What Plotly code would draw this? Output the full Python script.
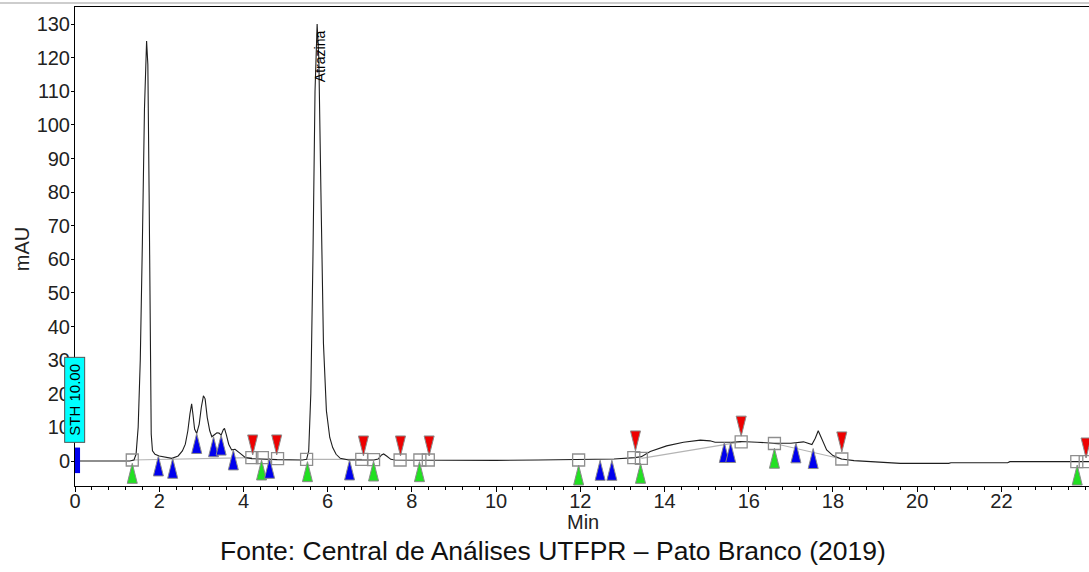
import plotly.graph_objects as go

# ---------------- data ----------------
time_min = [0.00, 1.30, 1.40, 1.45, 1.50, 1.55, 1.60, 1.65, 1.70, 1.73, 1.76, 1.79, 1.81, 1.84,
            1.90, 2.00, 2.15, 2.30, 2.45, 2.55, 2.62, 2.68, 2.73, 2.77, 2.80, 2.84, 2.89, 2.95,
            3.00, 3.05, 3.09, 3.14, 3.20, 3.25, 3.31, 3.37, 3.42, 3.47, 3.52, 3.55, 3.59, 3.65,
            3.72, 3.80, 3.90, 4.05, 4.20, 4.45, 4.80, 5.40, 5.50, 5.55, 5.60, 5.65, 5.70, 5.75,
            5.79, 5.84, 5.90, 5.97, 6.05, 6.12, 6.20, 6.30, 6.50, 7.10, 7.20, 7.28, 7.33, 7.40,
            7.50, 7.60, 9.00, 10.00, 11.00, 12.00, 12.80, 13.30, 13.45, 13.66, 14.05, 14.45,
            14.85, 15.08, 15.20, 15.60, 15.80, 16.20, 16.60, 17.00, 17.30, 17.50, 17.58, 17.65,
            17.72, 17.85, 18.00, 18.20, 18.50, 18.90, 19.60, 20.75, 20.80, 22.15, 22.20, 24.10]
absorb_mau = [0.0, 0.0, 0.3, 2.0, 10.0, 30.0, 65.0, 105.0, 125.0, 118.0, 80.0, 30.0, 8.0, 3.0,
              2.0, 1.5, 1.1, 0.8, 1.5, 3.0, 5.0, 9.0, 14.0, 17.0, 14.0, 9.5, 8.2, 11.0,
              16.0, 19.4, 18.5, 13.0, 9.0, 7.2, 7.8, 8.4, 8.3, 7.7, 9.3, 9.7, 8.0, 5.0,
              3.3, 3.5, 2.5, 1.0, 0.7, 0.5, 0.4, 0.3, 0.5, 3.0, 20.0, 60.0, 110.0, 130.0,
              120.0, 80.0, 35.0, 15.0, 7.0, 4.0, 2.0, 0.8, 0.3, 0.3, 0.6, 1.8, 2.1, 1.5,
              0.5, 0.3, 0.2, 0.2, 0.3, 0.4, 0.6, 1.0, 1.3, 2.8, 4.5, 5.6,
              6.2, 6.0, 5.6, 5.6, 5.8, 5.6, 5.3, 5.3, 5.7, 4.9, 6.8, 9.0,
              7.0, 3.3, 1.6, 0.6, 0.1, -0.2, -0.7, -0.7, -0.5, -0.5, -0.2, -0.2]

square_t = [1.36, 4.20, 4.45, 4.81, 5.50, 6.81, 7.09, 7.72, 8.19, 8.39, 11.96, 13.27, 13.45,
            15.82, 16.61, 18.21, 23.79, 23.99]
square_v = [0.3, 1.0, 1.0, 0.7, 0.5, 0.5, 0.4, 0.3, 0.3, 0.3, 0.3, 1.0, 0.8,
            5.7, 5.2, 0.6, -0.2, -0.2]

green_t = [1.36, 4.43, 5.52, 7.09, 8.18, 11.96, 13.43, 16.61, 23.80]
green_v = [-0.7, 0.3, -0.2, 0.0, -0.2, -1.2, -0.7, 3.8, -1.2]

blue_t = [1.98, 2.32, 2.89, 3.29, 3.47, 3.76, 4.62, 6.52, 12.47, 12.75, 15.42, 15.57, 17.12, 17.53]
blue_v = [1.5, 0.8, 8.2, 7.2, 7.7, 3.3, 0.8, 0.3, 0.2, 0.2, 5.5, 5.5, 5.4, 3.7]

red_t = [4.22, 4.79, 6.85, 7.73, 8.41, 13.31, 15.82, 18.21, 24.01]
red_v = [1.8, 1.8, 1.5, 1.5, 1.5, 3.0, 7.4, 2.7, 0.9]

# baseline segments (start time, start value, end time, end value)
base_t0 = [1.36, 5.50, 13.45, 16.61]
base_v0 = [0.3, 0.5, 0.8, 5.2]
base_t1 = [4.20, 6.81, 15.82, 18.21]
base_v1 = [1.0, 0.5, 5.7, 0.6]

peak_name = "Atrazina"
peak_label_t = 5.82
peak_label_v = 120.5

x_tick_vals = [0, 2, 4, 6, 8, 10, 12, 14, 16, 18, 20, 22]
y_tick_vals = [0, 10, 20, 30, 40, 50, 60, 70, 80, 90, 100, 110, 120, 130]

# ---------------- figure ----------------
FONT = "Liberation Sans, Arial, sans-serif"
fig = go.Figure()

for i in range(len(base_t0)):
    fig.add_trace(go.Scatter(x=[base_t0[i], base_t1[i]], y=[base_v0[i], base_v1[i]],
                             mode="lines", line=dict(color="#b4b4b4", width=1.2),
                             hoverinfo="skip"))

fig.add_trace(go.Scatter(x=time_min, y=absorb_mau, mode="lines",
                         line=dict(color="#1e1e1e", width=1.1)))

fig.add_trace(go.Scatter(x=square_t, y=square_v, mode="markers",
                         marker=dict(symbol="square-open", size=12, color="#8e8e8e",
                                     line=dict(width=1.3, color="#8e8e8e"))))

shapes = []


def tri(t, v, color, down=False):
    h, w = 20, 5
    if down:
        path = f"M0,0 L{w},{h} L{-w},{h} Z"
    else:
        path = f"M0,0 L{w},{-h} L{-w},{-h} Z"
    return dict(type="path", xref="x", yref="y", xsizemode="pixel", ysizemode="pixel",
                xanchor=t, yanchor=v, path=path, fillcolor=color,
                line=dict(color="#8a8a8a", width=1), layer="above")


for t, v in zip(green_t, green_v):
    shapes.append(tri(t, v, "#22e022"))
for t, v in zip(blue_t, blue_v):
    shapes.append(tri(t, v, "#0000ee"))
for t, v in zip(red_t, red_v):
    shapes.append(tri(t, v, "#ee0000", down=True))

# blue bar at origin
shapes.append(dict(type="rect", xref="x", yref="y", x0=0, x1=0.12, y0=-3.6, y1=4.0,
                   fillcolor="#0000ee", line=dict(width=0), layer="above"))
# grey line at very top of page
shapes.append(dict(type="line", xref="paper", yref="paper", x0=-0.08, x1=1.0,
                   y0=1.0084, y1=1.0084, line=dict(color="#bdbdbd", width=1.5)))

annotations = [
    dict(text=peak_name, x=peak_label_t, y=peak_label_v, xref="x", yref="y",
         textangle=-90, showarrow=False, font=dict(family=FONT, size=14, color="#000")),
    dict(text="STH 10.00", x=0.0, y=18.2, xref="x", yref="y", textangle=-90,
         showarrow=False, bgcolor="#00ffff", bordercolor="#555", borderwidth=1,
         borderpad=1, width=82, height=17,
         font=dict(family=FONT, size=15, color="#000")),
    dict(text="mAU", x=-0.052, y=0.495, xref="paper", yref="paper", textangle=-90,
         xanchor="center", yanchor="middle",
         showarrow=False, font=dict(family=FONT, size=20, color="#222")),
    dict(text="Min", x=0.501, y=-0.0752, xref="paper", yref="paper",
         xanchor="center", yanchor="middle",
         showarrow=False, font=dict(family=FONT, size=20, color="#222")),
    dict(text="Fonte: Central de Análises UTFPR – Pato Branco (2019)", x=0.4714, y=-0.1357,
         xref="paper", yref="paper", showarrow=False, xanchor="center", yanchor="middle",
         font=dict(family=FONT, size=26.5, color="#111")),
]

fig.update_layout(
    width=1089, height=572,
    margin=dict(l=75, r=0, t=7, b=86),
    paper_bgcolor="white", plot_bgcolor="white",
    showlegend=False,
    shapes=shapes,
    annotations=annotations,
    xaxis=dict(range=[0, 24.08], tickvals=x_tick_vals, showgrid=False, zeroline=False,
               showline=True, linecolor="#000", linewidth=1, mirror=True,
               ticks="outside", ticklen=5, tickcolor="#000", ticklabelstandoff=-8,
               minor=dict(dtick=0.4, tick0=0, ticks="outside", ticklen=3, tickcolor="#000"),
               tickfont=dict(family=FONT, size=20, color="#222")),
    yaxis=dict(range=[-7.44, 135.1], tickvals=y_tick_vals, showgrid=False, zeroline=False,
               showline=True, linecolor="#000", linewidth=1,
               ticks="outside", ticklen=3, tickcolor="#000", ticklabelstandoff=-3,
               tickfont=dict(family=FONT, size=20, color="#222")),
)

fig.write_html("out.html")
